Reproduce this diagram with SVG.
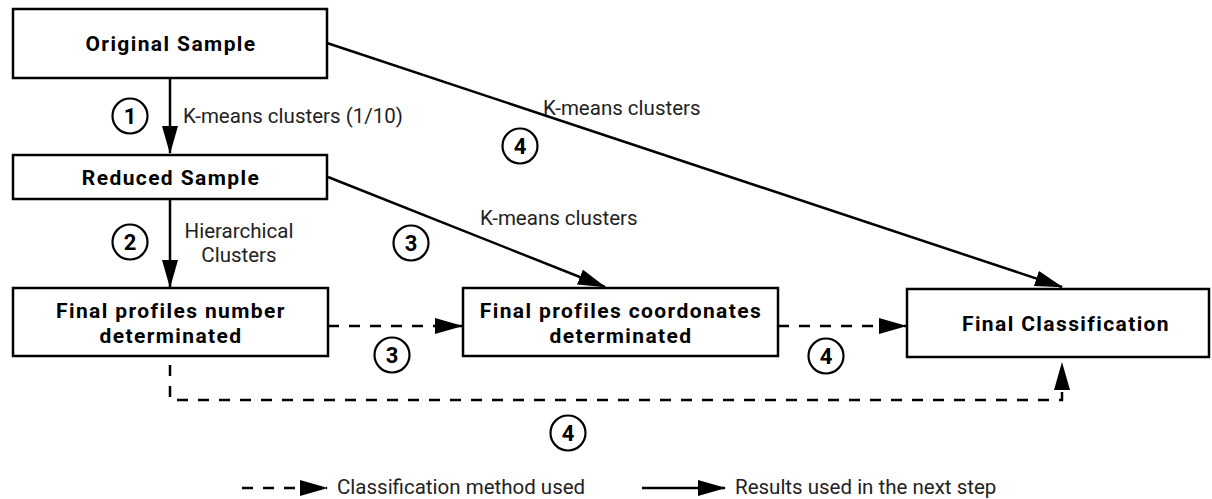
<svg xmlns="http://www.w3.org/2000/svg" width="1212" height="499" viewBox="0 0 1212 499">
  <defs>
    <marker id="ah" markerUnits="userSpaceOnUse" markerWidth="28" markerHeight="16" refX="27" refY="8" orient="auto">
      <path d="M0,0 L28,8 L0,16 z" fill="#000"/>
    </marker>
    <style>
      .box { fill: #fff; stroke: #000; stroke-width: 2.5; }
      .bt { font-family: Roboto, "Liberation Sans", sans-serif; font-weight: 700; font-size: 21px; letter-spacing: 1.4px; fill: #000; text-anchor: middle; }
      .lb { font-family: Roboto, "Liberation Sans", sans-serif; font-weight: 400; font-size: 20.5px; fill: #222; }
      .solid { fill: none; stroke: #000; stroke-width: 2.5; }
      .dash { fill: none; stroke: #000; stroke-width: 2.5; stroke-dasharray: 11 10; }
      .circ { fill: #fff; stroke: #000; stroke-width: 2.2; }
      .num { font-family: Roboto, "Liberation Sans", sans-serif; font-weight: 700; font-size: 22px; fill: #000; text-anchor: middle; }
    </style>
  </defs>
  <rect width="1212" height="499" fill="#fff"/>

  <g id="connectors">
    <line class="solid" x1="170" y1="78" x2="170" y2="153" marker-end="url(#ah)"/>
    <line class="solid" x1="170" y1="199" x2="170" y2="287" marker-end="url(#ah)"/>
    <line class="solid" x1="328" y1="177" x2="605" y2="287" marker-end="url(#ah)"/>
    <line class="solid" x1="327" y1="43" x2="1062" y2="287" marker-end="url(#ah)"/>
    <line class="dash" x1="328" y1="326" x2="462" y2="326" marker-end="url(#ah)"/>
    <line class="dash" x1="778" y1="326" x2="906" y2="326" marker-end="url(#ah)"/>
    <path class="dash" d="M170,365 V400 H1062 V363" marker-end="url(#ah)"/>
  </g>

  <g id="original-sample">
    <rect class="box" x="13" y="9" width="314" height="69"/>
    <text class="bt" x="171" y="51">Original Sample</text>
  </g>
  <g id="reduced-sample">
    <rect class="box" x="13" y="155" width="314" height="44"/>
    <text class="bt" x="171" y="185">Reduced Sample</text>
  </g>
  <g id="final-profiles-number">
    <rect class="box" x="13" y="288" width="315" height="68"/>
    <text class="bt" x="171" y="318">Final profiles number</text>
    <text class="bt" x="171" y="343">determinated</text>
  </g>
  <g id="final-profiles-coordonates">
    <rect class="box" x="463" y="288" width="315" height="68"/>
    <text class="bt" x="621" y="318">Final profiles coordonates</text>
    <text class="bt" x="621" y="343">determinated</text>
  </g>
  <g id="final-classification">
    <rect class="box" x="907" y="289" width="302" height="68"/>
    <text class="bt" x="1066" y="331">Final Classification</text>
  </g>

  <g id="labels">
    <text class="lb" x="183" y="123">K-means clusters (1/10)</text>
    <text class="lb" x="239" y="238" text-anchor="middle">Hierarchical</text>
    <text class="lb" x="239" y="262" text-anchor="middle">Clusters</text>
    <text class="lb" x="480" y="225">K-means clusters</text>
    <text class="lb" x="543" y="115">K-means clusters</text>
  </g>

  <g id="step-markers">
    <g id="step1"><circle class="circ" cx="130" cy="116" r="17.5"/><text class="num" x="130" y="124">1</text></g>
    <g id="step2"><circle class="circ" cx="130" cy="242" r="17.5"/><text class="num" x="130" y="250">2</text></g>
    <g id="step3a"><circle class="circ" cx="411" cy="243" r="17.5"/><text class="num" x="411" y="251">3</text></g>
    <g id="step4a"><circle class="circ" cx="520" cy="146" r="17.5"/><text class="num" x="520" y="154">4</text></g>
    <g id="step3b"><circle class="circ" cx="392" cy="355" r="17.5"/><text class="num" x="392" y="363">3</text></g>
    <g id="step4b"><circle class="circ" cx="826" cy="356" r="17.5"/><text class="num" x="826" y="364">4</text></g>
    <g id="step4c"><circle class="circ" cx="568" cy="433" r="17.5"/><text class="num" x="568" y="441">4</text></g>
  </g>

  <g id="legend">
    <line class="dash" x1="242" y1="488" x2="327" y2="488" marker-end="url(#ah)"/>
    <text class="lb" x="337" y="494">Classification method used</text>
    <line class="solid" x1="642" y1="488" x2="725" y2="488" marker-end="url(#ah)"/>
    <text class="lb" x="735" y="494">Results used in the next step</text>
  </g>
</svg>
